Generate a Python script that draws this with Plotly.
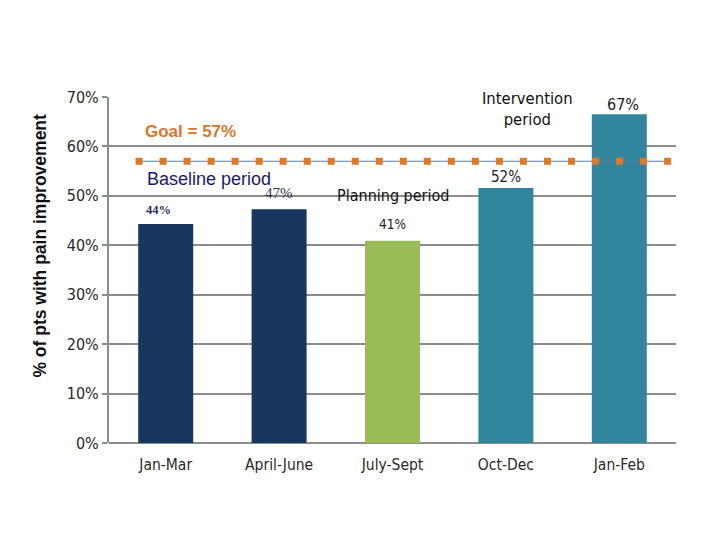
import plotly.graph_objects as go

categories = ["Jan-Mar", "April-June", "July-Sept", "Oct-Dec", "Jan-Feb"]
values = [44.3, 47.3, 40.9, 51.6, 66.5]
bar_colors = ["#17375E", "#17375E", "#9BBB59", "#31859C", "#31859C"]
goal_value = 57
goal_points = list(range(1, 24))
goal_values = [goal_value] * len(goal_points)
y_ticks = [0, 10, 20, 30, 40, 50, 60, 70]
y_tick_labels = ["0%", "10%", "20%", "30%", "40%", "50%", "60%", "70%"]

FONT = "Liberation Sans Narrow, DejaVu Sans Condensed, Liberation Sans, sans-serif"
SANS = "Liberation Sans, Arial, sans-serif"
SERIF = "Liberation Serif, DejaVu Serif, serif"

fig = go.Figure()
fig.add_trace(go.Bar(
    x=list(range(len(categories))), y=values,
    marker=dict(color=bar_colors, line=dict(width=0)),
    width=0.485, hoverinfo="skip",
))
fig.add_trace(go.Scatter(
    x=goal_points, y=goal_values, xaxis="x2", yaxis="y",
    mode="lines+markers",
    line=dict(color="#5B7FA6", width=1),
    marker=dict(symbol="square", size=7, color="#E0782A"),
    hoverinfo="skip", cliponaxis=False,
))

grid = "#8C8C8C"
fig.update_layout(
    width=720, height=540,
    margin=dict(l=109, r=44, t=97, b=97, autoexpand=False),
    paper_bgcolor="white", plot_bgcolor="white",
    showlegend=False,
    font=dict(family=FONT, size=14, color="#222222"),
    xaxis=dict(
        range=[-0.5, 4.5], tickvals=list(range(len(categories))), ticktext=categories,
        showgrid=False, zeroline=False, showline=False, ticks="",
        tickfont=dict(family=FONT, size=15.5, color="#2A2A2A"),
        ticklabelstandoff=10, automargin=False,
    ),
    xaxis2=dict(
        range=[-0.25, 23.35], overlaying="x", visible=False,
    ),
    yaxis=dict(
        range=[0, 70], tickvals=y_ticks, ticktext=y_tick_labels,
        showgrid=True, gridcolor=grid, gridwidth=2,
        zeroline=True, zerolinecolor=grid, zerolinewidth=2,
        showline=True, linecolor=grid, linewidth=2,
        ticks="outside", ticklen=5, tickcolor=grid, tickwidth=1.5,
        tickfont=dict(family=FONT, size=16, color="#2A2A2A"),
        automargin=False,
    ),
)

fig.add_annotation(
    xref="paper", yref="paper", x=-0.122, y=0.57, showarrow=False,
    text="<b>% of pts with pain improvement</b>", textangle=-90,
    xanchor="center", yanchor="middle",
    font=dict(family=SANS, size=17.5, color="#111111"),
)

anns = [
    dict(text="<b>Goal = 57%</b>", x=0.215, y=63.1, font=dict(family=SANS, size=17, color="#D9772C")),
    dict(text="Baseline period", x=0.383, y=53.4, font=dict(family=SANS, size=18, color="#1A1A6E")),
    dict(text="47%", x=1.0, y=50.6, font=dict(family=SERIF, size=15, color="#2A3550")),
    dict(text="<b>44%</b>", x=-0.067, y=47.1, font=dict(family=SERIF, size=12.5, color="#1F2F5F")),
    dict(text="Planning period", x=2.0, y=50.0, font=dict(family=FONT, size=16, color="#111111")),
    dict(text="41%", x=2.0, y=44.3, font=dict(family=FONT, size=13.5, color="#222222")),
    dict(text="52%", x=3.0, y=53.8, font=dict(family=FONT, size=15, color="#222222")),
    dict(text="Intervention<br>period", x=3.19, y=67.6, font=dict(family=FONT, size=16.5, color="#111111")),
    dict(text="67%", x=4.03, y=68.5, font=dict(family=FONT, size=16, color="#222222")),
]
for a in anns:
    fig.add_annotation(xref="x", yref="y", showarrow=False, xanchor="center", yanchor="middle", **a)

fig.write_html("out.html", config={"displayModeBar": False},
               post_script="document.body.style.margin='0';")
